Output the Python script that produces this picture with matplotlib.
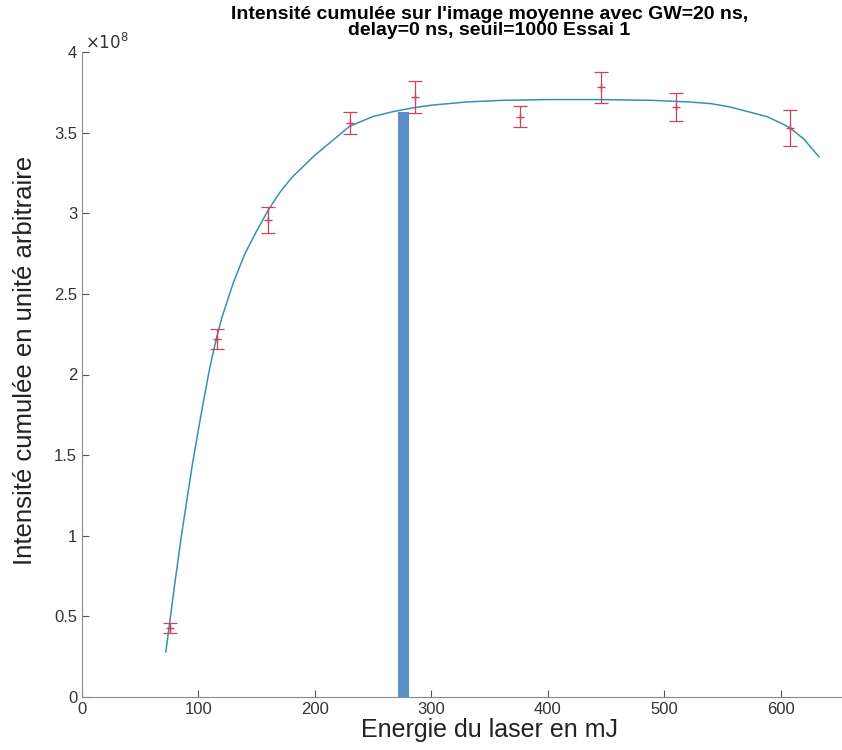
import numpy as np
import matplotlib
matplotlib.use("Agg")
import matplotlib.pyplot as plt
from matplotlib.ticker import FuncFormatter

plt.rcParams['font.family'] = ['Liberation Sans', 'DejaVu Sans']

# measured points (energy in mJ, intensity in 1e8 a.u.)
energie = [75.5, 116, 160, 230, 286, 376, 446, 510, 608]
intensite = [0.43, 2.22, 2.96, 3.56, 3.72, 3.60, 3.78, 3.66, 3.53]
erreur = [0.03, 0.06, 0.08, 0.07, 0.10, 0.065, 0.095, 0.085, 0.11]

# fitted curve
fit_x = [72, 76, 80, 85, 90, 95, 100, 105, 110, 115, 120, 130, 140, 150, 160,
         170, 180, 190, 200, 215, 230, 250, 267, 285, 300, 330, 360, 400, 445,
         490, 522, 540, 556, 572, 588, 600, 608, 620, 633]
fit_y = [0.28, 0.50, 0.72, 0.98, 1.22, 1.45, 1.66, 1.86, 2.05, 2.21, 2.35, 2.57,
         2.75, 2.89, 3.02, 3.13, 3.22, 3.29, 3.36, 3.45, 3.54, 3.60, 3.63, 3.655,
         3.67, 3.69, 3.70, 3.705, 3.705, 3.70, 3.69, 3.68, 3.66, 3.63, 3.60, 3.56,
         3.53, 3.46, 3.35]

# marker bar
bar_x = [276]
bar_h = [3.63]

scale = 1e8
fig = plt.figure(figsize=(8.42, 7.5), dpi=100)
ax = fig.add_axes([82/842, 53/750, (897-82)/842, (697-52)/750])

ax.bar(bar_x, np.array(bar_h)*scale, width=9.5, color="#5b8fc9", zorder=1)
ax.plot(fit_x, np.array(fit_y)*scale, color="#3a8fb7", lw=1.1, zorder=2)
ax.errorbar(energie, np.array(intensite)*scale, yerr=np.array(erreur)*scale,
            fmt="+", color="#c8455a", ecolor="#c8455a", elinewidth=0.9,
            capsize=5, capthick=0.9, ms=6, zorder=3)

ax.set_xlim(0, 700)
ax.set_ylim(0, 4e8)
ax.set_xticks([0, 100, 200, 300, 400, 500, 600])
ax.set_yticks(np.arange(0, 4.01, 0.5)*scale)
ax.yaxis.set_major_formatter(FuncFormatter(lambda v, p: "%g" % (v/scale)))
ax.text(0.004, 1.0, r"$\times10^{8}$", transform=ax.transAxes, fontsize=12,
        color="#333333", ha="left", va="bottom")

for s in ["top", "right"]:
    ax.spines[s].set_visible(False)
for s in ["left", "bottom"]:
    ax.spines[s].set_color("#8a8a8a")
ax.tick_params(direction="in", length=5, color="#555555", labelsize=12,
               labelcolor="#333333")

ax.set_xlabel("Energie du laser en mJ", fontsize=18, color="#222222", labelpad=1)
ax.set_ylabel("Intensité cumulée en unité arbitraire", fontsize=18.5,
              color="#222222")
ax.yaxis.set_label_coords(-0.055, 0.522)
ax.set_title("Intensité cumulée sur l'image moyenne avec GW=20 ns,\n"
             "delay=0 ns, seuil=1000 Essai 1", fontsize=14, fontweight="bold",
             linespacing=0.95, pad=12)

fig.savefig("out.png", dpi=100)
